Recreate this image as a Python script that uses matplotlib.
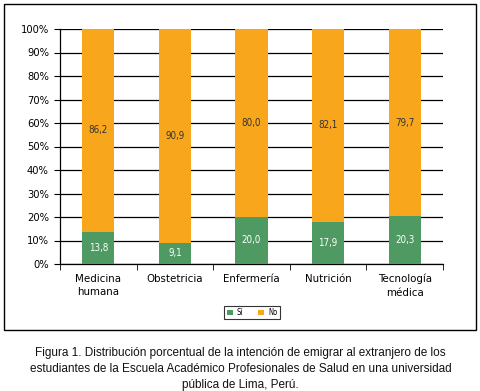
import matplotlib
matplotlib.use("Agg")
import matplotlib.pyplot as plt
from matplotlib.patches import Rectangle
from matplotlib import font_manager
import numpy as np

categories = ["Medicina\nhumana", "Obstetricia", "Enfermería", "Nutrición", "Tecnología\nmédica"]
si_vals = [13.8, 9.1, 20.0, 17.9, 20.3]
no_vals = [86.2, 90.9, 80.0, 82.1, 79.7]
si_labels = ["13,8", "9,1", "20,0", "17,9", "20,3"]
no_labels = ["86,2", "90,9", "80,0", "82,1", "79,7"]

names = {f.name for f in font_manager.fontManager.ttflist}
if "Liberation Sans Narrow" in names:
    narrow = dict(family="Liberation Sans Narrow")
else:
    narrow = dict(family="DejaVu Sans", stretch="condensed")

orange = "#F8A61C"
green = "#4E9A62"

W, H = 481, 391
fig = plt.figure(figsize=(W / 100, H / 100), dpi=100)
ax = fig.add_axes([60 / W, 1 - 264 / H, 383 / W, 235 / H])

x = np.arange(len(categories))
ax.bar(x, si_vals, width=0.42, color=green, zorder=3, label="Sí")
ax.bar(x, no_vals, width=0.42, bottom=si_vals, color=orange, zorder=3, label="No")

for i in range(len(x)):
    ax.text(x[i], si_vals[i] / 2, si_labels[i], ha="center", va="center",
            color="white", fontsize=7, zorder=4, **narrow)
    ax.text(x[i], si_vals[i] + no_vals[i] / 2, no_labels[i], ha="center", va="center",
            color="#333333", fontsize=7, zorder=4, **narrow)

ax.set_xlim(-0.5, len(x) - 0.5)
ax.set_ylim(0, 100)
ax.set_yticks(np.arange(0, 101, 10))
ax.set_yticklabels([f"{v}%" for v in range(0, 101, 10)], fontsize=8, **narrow)
ax.yaxis.grid(True, color="black", linewidth=0.9, zorder=1)
ax.set_axisbelow(True)

ax.set_xticks(x)
ax.set_xticklabels(categories, fontsize=8.2, **narrow)
for lab in ax.get_xticklabels():
    lab.set_linespacing(1.45)
ax.tick_params(axis="x", length=0, pad=7)
ax.set_xticks(np.arange(-0.5, len(x), 1), minor=True)
ax.tick_params(axis="x", which="minor", length=4, direction="out", color="black")
ax.tick_params(axis="y", length=4, direction="out", color="black", pad=4)

for s in ["top", "right"]:
    ax.spines[s].set_visible(False)
ax.spines["left"].set_linewidth(0.9)
ax.spines["bottom"].set_linewidth(0.9)

leg = ax.legend(loc="upper center", bbox_to_anchor=(252 / W, 1 - 302 / H),
                bbox_transform=fig.transFigure, ncol=2, frameon=True,
                fancybox=False, edgecolor="black",
                prop=dict(size=5.5, **narrow), handlelength=0.8,
                handleheight=0.8, handletextpad=0.5, columnspacing=2.0,
                borderpad=0.3)
leg.get_frame().set_linewidth(0.8)

fig.patches.append(Rectangle((4 / W, 1 - 330 / H), 472 / W, 326 / H, transform=fig.transFigure,
                             fill=False, edgecolor="black", linewidth=1.0))

fig.text(0.5, 1 - 369 / H,
         "Figura 1. Distribución porcentual de la intención de emigrar al extranjero de los\n"
         "estudiantes de la Escuela Académico Profesionales de Salud en una universidad\n"
         "pública de Lima, Perú.",
         ha="center", va="center", fontsize=8.45, family="Liberation Sans",
         linespacing=1.45, color="#111111")

fig.savefig("out.png", dpi=100)
